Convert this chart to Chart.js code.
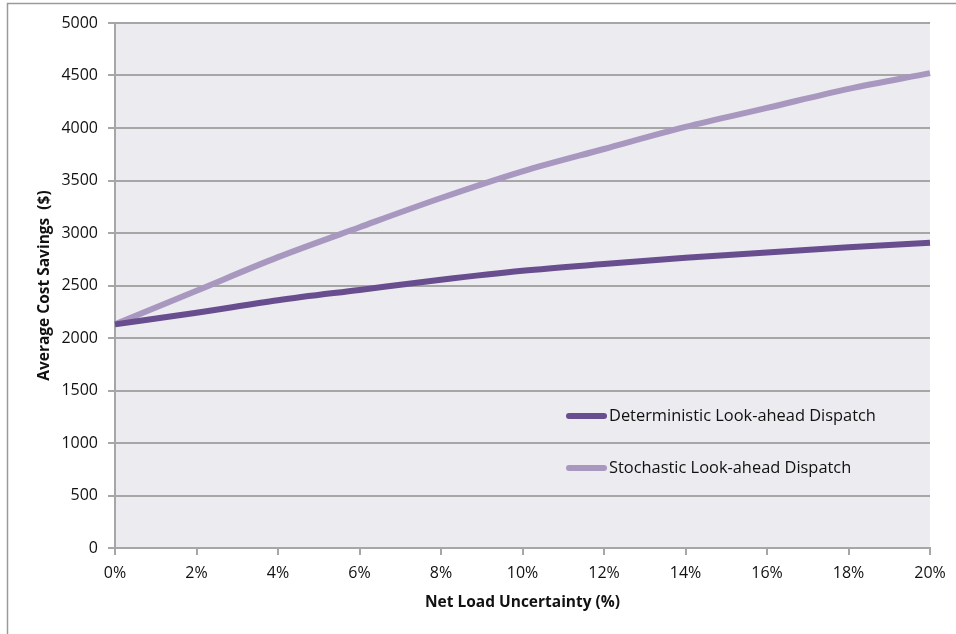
<!DOCTYPE html>
<html>
<head>
<meta charset="utf-8">
<script src="https://cdn.jsdelivr.net/npm/chart.js@4/dist/chart.umd.min.js"></script>
<style>
  html, body { margin: 0; padding: 0; background: #ffffff; }
  #wrap { width: 956px; height: 634px; position: relative; }
</style>
</head>
<body>
<div id="wrap"><canvas id="c" width="956" height="634"></canvas></div>
<script>
// Net load uncertainty levels (x axis)
const uncertaintyLabels = ['0%', '2%', '4%', '6%', '8%', '10%', '12%', '14%', '16%', '18%', '20%'];

// Average cost savings ($) for each dispatch approach
const deterministicSavings = [2130, 2240, 2360, 2458, 2555, 2640, 2705, 2765, 2815, 2865, 2908];
const stochasticSavings    = [2130, 2450, 2770, 3055, 3333, 3587, 3800, 4010, 4191, 4373, 4523];

const seriesNames = ['Deterministic Look-ahead Dispatch', 'Stochastic Look-ahead Dispatch'];

const FONT = '"Open Sans", "DejaVu Sans", sans-serif';
const GRID = '#a6a6a6';
const TEXT = '#111111';

// Shaded plot background plus the frame lines around the figure
const frameAndBackground = {
  id: 'frameAndBackground',
  beforeDraw(chart) {
    const { ctx, chartArea: a } = chart;
    ctx.save();
    ctx.fillStyle = '#ffffff';
    ctx.fillRect(0, 0, chart.width, chart.height);
    ctx.fillStyle = '#ecebf0';
    ctx.fillRect(a.left, a.top, a.right - a.left, a.bottom - a.top);
    ctx.strokeStyle = '#9a9a9a';
    ctx.lineWidth = 1.5;
    ctx.beginPath();
    ctx.moveTo(7.5, chart.height);
    ctx.lineTo(7.5, 3.5);
    ctx.lineTo(chart.width, 3.5);
    ctx.stroke();
    ctx.restore();
  }
};

// Legend drawn inside the plot area, at its lower right
const insideLegend = {
  id: 'insideLegend',
  afterDatasetsDraw(chart) {
    const { ctx, chartArea: a } = chart;
    const x0 = a.left + 451;
    const rows = [a.top + 393, a.top + 445];
    ctx.save();
    ctx.font = '16.4px ' + FONT;
    ctx.textBaseline = 'middle';
    ctx.textAlign = 'left';
    chart.data.datasets.forEach((ds, i) => {
      const y = rows[i];
      ctx.strokeStyle = ds.borderColor;
      ctx.lineWidth = 6;
      ctx.lineCap = 'round';
      ctx.beginPath();
      ctx.moveTo(x0 + 3, y);
      ctx.lineTo(x0 + 38, y);
      ctx.stroke();
      ctx.fillStyle = TEXT;
      ctx.fillText(ds.label, x0 + 43, y);
    });
    ctx.restore();
  }
};

new Chart(document.getElementById('c'), {
  type: 'line',
  data: {
    labels: uncertaintyLabels,
    datasets: [
      {
        label: seriesNames[0],
        data: deterministicSavings,
        borderColor: '#684e8e',
        borderWidth: 6,
        pointRadius: 0,
        cubicInterpolationMode: 'monotone',
        fill: false
      },
      {
        label: seriesNames[1],
        data: stochasticSavings,
        borderColor: '#a898bf',
        borderWidth: 6,
        pointRadius: 0,
        cubicInterpolationMode: 'monotone',
        fill: false
      }
    ]
  },
  options: {
    responsive: false,
    animation: false,
    devicePixelRatio: 1,
    layout: { padding: { left: 0, top: 23, right: 26, bottom: 0 } },
    plugins: {
      legend: { display: false },
      tooltip: { enabled: false }
    },
    scales: {
      x: {
        offset: false,
        afterFit(scale) { scale.height = 86; },
        grid: {
          drawOnChartArea: false,
          drawTicks: true,
          tickLength: 7,
          color: GRID,
          lineWidth: 2
        },
        border: { color: GRID, width: 2 },
        ticks: {
          color: TEXT,
          font: { family: FONT, size: 16 },
          padding: 9,
          maxRotation: 0,
          autoSkip: false
        },
        title: {
          display: true,
          text: 'Net Load Uncertainty (%)',
          color: TEXT,
          font: { family: FONT, size: 15.5, weight: 'bold' },
          padding: { top: 0, bottom: 22 }
        }
      },
      y: {
        min: 0,
        max: 5000,
        afterFit(scale) { scale.width = 115; },
        ticks: {
          stepSize: 500,
          color: TEXT,
          font: { family: FONT, size: 16 },
          padding: 10,
          callback: (v) => String(v)
        },
        grid: {
          color: GRID,
          lineWidth: 2,
          tickLength: 7
        },
        border: { color: GRID, width: 2 },
        title: {
          display: true,
          text: 'Average Cost Savings  ($)',
          color: TEXT,
          font: { family: FONT, size: 15.5, weight: 'bold' },
          padding: { top: 35, bottom: 0 }
        }
      }
    }
  },
  plugins: [frameAndBackground, insideLegend]
});
</script>
</body>
</html>
